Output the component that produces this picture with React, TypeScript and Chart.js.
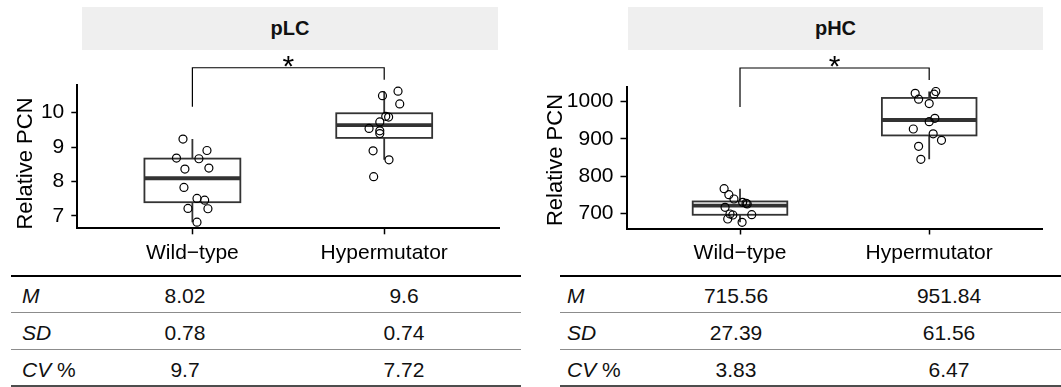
import React, { useEffect, useRef } from "react";
import { Chart, registerables } from "chart.js";

Chart.register(...registerables);

const FONT = '"Liberation Sans", Arial, Helvetica, sans-serif';

// Groups on the x axis
const groups = ["Wild\u2212type", "Hypermutator"];

// Relative plasmid copy number of each clone, pLC
const plcWildType = [9.23, 8.9, 8.68, 8.66, 8.36, 8.39, 7.83, 7.51, 7.46, 7.22, 7.21, 6.82];
const plcHypermutator = [10.49, 10.62, 10.25, 9.89, 9.87, 9.73, 9.54, 9.47, 9.39, 8.89, 8.63, 8.14];

// Relative plasmid copy number of each clone, pHC
const phcWildType = [766.1, 750.0, 738.4, 729.6, 726.9, 725.0, 716.1, 698.1, 695.4, 696.2, 684.7, 675.8];
const phcHypermutator = [1022.6, 1027.4, 1020.2, 1006.7, 994.9, 955.4, 946.2, 926.6, 913.7, 896.2, 880.1, 845.2];

// Horizontal jitter of each clone (fraction of a category width)
const plcWildTypeJitter = [-0.049, 0.076, -0.083, 0.034, -0.039, 0.086, -0.044, 0.024, 0.064, -0.023, 0.081, 0.024];
const plcHypermutatorJitter = [-0.009, 0.072, 0.081, 0.008, 0.023, -0.023, -0.079, -0.023, -0.023, -0.058, 0.025, -0.055];
const phcWildTypeJitter = [-0.084, -0.059, -0.032, 0.014, 0.032, 0.038, -0.079, -0.053, -0.038, 0.062, -0.065, 0.011];
const phcHypermutatorJitter = [-0.074, 0.035, 0.026, -0.056, 0, 0.03, 0, -0.084, 0.021, 0.065, -0.056, -0.044];

// Axis ticks
const plcTicks = [7, 8, 9, 10];
const phcTicks = [700, 800, 900, 1000];

// Significance bracket: [bar level, left leg end, right leg end]
const plcBracket = [11.3, 10.17, 10.95];
const phcBracket = [1090.6, 985.8, 1058];
const signifLabel = "*";

// Summary statistics (Wild-type, Hypermutator)
const plcMean = ["8.02", "9.6"];
const plcSD = ["0.78", "0.74"];
const plcCV = ["9.7", "7.72"];
const phcMean = ["715.56", "951.84"];
const phcSD = ["27.39", "61.56"];
const phcCV = ["3.83", "6.47"];

function quantile7(sorted: number[], p: number) {
  const h = (sorted.length - 1) * p;
  const lo = Math.floor(h);
  const hi = Math.min(lo + 1, sorted.length - 1);
  return sorted[lo] + (h - lo) * (sorted[hi] - sorted[lo]);
}

function boxStats(vals: number[]) {
  const s = [...vals].sort((a, b) => a - b);
  const q1 = quantile7(s, 0.25);
  const med = quantile7(s, 0.5);
  const q3 = quantile7(s, 0.75);
  const iqr = q3 - q1;
  const lo = Math.min(...s.filter((v) => v >= q1 - 1.5 * iqr));
  const hi = Math.max(...s.filter((v) => v <= q3 + 1.5 * iqr));
  return { q1, med, q3, lo, hi };
}

const boxPlugin = {
  id: "boxes",
  beforeDatasetsDraw(chart: any, _args: any, opts: any) {
    const { ctx } = chart;
    const x = chart.scales.x;
    const y = chart.scales.y;
    (opts.groups as number[][]).forEach((vals, i) => {
      const st = boxStats(vals);
      const cx = x.getPixelForValue(i + 1);
      const xl = x.getPixelForValue(i + 1 - 0.25);
      const xr = x.getPixelForValue(i + 1 + 0.25);
      const yq1 = y.getPixelForValue(st.q1);
      const yq3 = y.getPixelForValue(st.q3);
      ctx.save();
      ctx.strokeStyle = "#333333";
      ctx.lineWidth = 1.8;
      ctx.beginPath();
      ctx.moveTo(cx, yq3);
      ctx.lineTo(cx, y.getPixelForValue(st.hi));
      ctx.moveTo(cx, yq1);
      ctx.lineTo(cx, y.getPixelForValue(st.lo));
      ctx.stroke();
      ctx.fillStyle = "#ffffff";
      ctx.fillRect(xl, yq3, xr - xl, yq1 - yq3);
      ctx.strokeRect(xl, yq3, xr - xl, yq1 - yq3);
      ctx.lineWidth = 3.8;
      ctx.beginPath();
      const ym = y.getPixelForValue(st.med);
      ctx.moveTo(xl, ym);
      ctx.lineTo(xr, ym);
      ctx.stroke();
      ctx.restore();
    });
  },
};

const annotatePlugin = {
  id: "annotate",
  afterDatasetsDraw(chart: any, _args: any, opts: any) {
    const { ctx } = chart;
    const x = chart.scales.x;
    const y = chart.scales.y;
    const [level, leftEnd, rightEnd] = opts.bracket as number[];
    const x1 = x.getPixelForValue(1);
    const x2 = x.getPixelForValue(2);
    const yl = y.getPixelForValue(level);
    ctx.save();
    ctx.strokeStyle = "#000";
    ctx.lineWidth = 1.2;
    ctx.beginPath();
    ctx.moveTo(x1, y.getPixelForValue(leftEnd));
    ctx.lineTo(x1, yl);
    ctx.lineTo(x2, yl);
    ctx.lineTo(x2, y.getPixelForValue(rightEnd));
    ctx.stroke();

    ctx.fillStyle = "#000";
    ctx.font = `30px ${FONT}`;
    ctx.textAlign = "center";
    ctx.textBaseline = "alphabetic";
    const m = ctx.measureText(opts.label);
    const glyphBottom = yl - 1;
    ctx.fillText(opts.label, (x1 + x2) / 2, glyphBottom - m.actualBoundingBoxDescent);

    // y axis title
    ctx.font = `22px ${FONT}`;
    ctx.translate(opts.titleX, opts.titleY);
    ctx.rotate(-Math.PI / 2);
    ctx.fillText(opts.yTitle, 0, 0);
    ctx.restore();
  },
};

type PanelProps = {
  left: number;
  width: number;
  height: number;
  wt: number[];
  hyp: number[];
  wtJit: number[];
  hypJit: number[];
  yTicks: number[];
  yMin: number;
  yMax: number;
  bracket: number[];
  area: { left: number; right: number; top: number; bottom: number };
  titleX: number;
  titleY: number;
};

function Panel(p: PanelProps) {
  const ref = useRef<HTMLCanvasElement | null>(null);
  useEffect(() => {
    if (!ref.current) return;
    const pointStyle = {
      pointRadius: 4,
      pointHoverRadius: 4,
      borderWidth: 1.2,
      borderColor: "#000",
      backgroundColor: "rgba(0,0,0,0)",
    };
    const tickFont = { size: 21, family: FONT };
    const chart = new Chart(ref.current, {
      type: "scatter",
      data: {
        datasets: [
          { data: p.wt.map((v, i) => ({ x: 1 + p.wtJit[i], y: v })), ...pointStyle },
          { data: p.hyp.map((v, i) => ({ x: 2 + p.hypJit[i], y: v })), ...pointStyle },
        ],
      },
      options: {
        animation: false,
        responsive: false,
        events: [],
        layout: {
          padding: { left: 0, top: p.area.top, right: p.width - p.area.right, bottom: 0 },
        },
        plugins: {
          legend: { display: false },
          tooltip: { enabled: false },
          boxes: { groups: [p.wt, p.hyp] },
          annotate: {
            bracket: p.bracket,
            label: signifLabel,
            yTitle: "Relative PCN",
            titleX: p.titleX,
            titleY: p.titleY,
          },
        } as any,
        scales: {
          x: {
            type: "linear",
            min: 0.4,
            max: 2.6,
            afterFit: (s: any) => {
              s.height = p.height - p.area.bottom;
            },
            afterBuildTicks: (s: any) => {
              s.ticks = [{ value: 1 }, { value: 2 }];
            },
            ticks: {
              callback: (v: any) => groups[Math.round(Number(v)) - 1],
              font: tickFont,
              color: "#000",
              padding: 6,
              maxRotation: 0,
              autoSkip: false,
            },
            grid: { drawOnChartArea: false, drawTicks: true, tickLength: 6, tickColor: "#000", tickWidth: 1.5 },
            border: { display: true, color: "#000", width: 2 },
          },
          y: {
            type: "linear",
            min: p.yMin,
            max: p.yMax,
            afterFit: (s: any) => {
              s.width = p.area.left;
            },
            afterBuildTicks: (s: any) => {
              s.ticks = p.yTicks.map((value) => ({ value }));
            },
            ticks: { font: tickFont, color: "#000", padding: 7, callback: (v: any) => String(v) },
            grid: { drawOnChartArea: false, drawTicks: true, tickLength: 6, tickColor: "#000", tickWidth: 1.5 },
            border: { display: true, color: "#000", width: 2 },
          },
        },
      } as any,
      plugins: [boxPlugin, annotatePlugin],
    });
    return () => chart.destroy();
  }, []);
  return (
    <canvas
      ref={ref}
      width={p.width}
      height={p.height}
      style={{ position: "absolute", left: p.left, top: 0, width: p.width, height: p.height }}
    />
  );
}

function Strip({ left, width, text }: { left: number; width: number; text: string }) {
  return (
    <div
      style={{
        position: "absolute",
        left,
        top: 7,
        width,
        height: 43,
        background: "#efefef",
        textAlign: "center",
        lineHeight: "43px",
        fontWeight: "bold",
        fontSize: 20,
        color: "#111",
      }}
    >
      {text}
    </div>
  );
}

type TableProps = {
  left: number;
  right: number;
  labelX: number;
  col1X: number;
  col2X: number;
  mean: string[];
  sd: string[];
  cv: string[];
};

function StatsTable(t: TableProps) {
  const rowCenters = [296, 333, 370];
  const labels = [
    <i key="m">M</i>,
    <i key="sd">SD</i>,
    <span key="cv">
      <i>CV</i> %
    </span>,
  ];
  const rows = [t.mean, t.sd, t.cv];
  const line = (top: number, h: number, color: string) => (
    <div style={{ position: "absolute", left: t.left, width: t.right - t.left, top, height: h, background: color }} />
  );
  const cell = (cx: number, cy: number, content: any, align: "left" | "center", key: string) => (
    <div
      key={key}
      style={{
        position: "absolute",
        left: align === "left" ? cx : cx - 70,
        width: align === "left" ? 100 : 140,
        top: cy - 12,
        height: 24,
        lineHeight: "24px",
        fontSize: 21,
        textAlign: align,
        color: "#111",
        whiteSpace: "nowrap",
      }}
    >
      {content}
    </div>
  );
  return (
    <>
      {line(274.8, 1.8, "#000")}
      {line(311.5, 1.5, "#8c8c8c")}
      {line(348.5, 1.5, "#8c8c8c")}
      {line(384.5, 2.5, "#4d4d4d")}
      {rowCenters.map((cy, r) => (
        <React.Fragment key={r}>
          {cell(t.labelX, cy, labels[r], "left", `l${r}`)}
          {cell(t.col1X, cy, rows[r][0], "center", `a${r}`)}
          {cell(t.col2X, cy, rows[r][1], "center", `b${r}`)}
        </React.Fragment>
      ))}
    </>
  );
}

export default function App() {
  return (
    <div
      style={{
        position: "absolute",
        left: 0,
        top: 0,
        width: 1061,
        height: 387,
        background: "#fff",
        overflow: "hidden",
        fontFamily: FONT,
      }}
    >
      <Strip left={82} width={416} text="pLC" />
      <Strip left={628} width={415} text="pHC" />
      <Panel
        left={0}
        width={530}
        height={272}
        wt={plcWildType}
        hyp={plcHypermutator}
        wtJit={plcWildTypeJitter}
        hypJit={plcHypermutatorJitter}
        yTicks={plcTicks}
        yMin={6.643}
        yMax={10.8}
        bracket={plcBracket}
        area={{ left: 77.3, right: 499.3, top: 85, bottom: 228.3 }}
        titleX={32}
        titleY={163.5}
      />
      <Panel
        left={530}
        width={531}
        height={272}
        wt={phcWildType}
        hyp={phcHypermutator}
        wtJit={phcWildTypeJitter}
        hypJit={phcHypermutatorJitter}
        yTicks={phcTicks}
        yMin={659.1}
        yMax={1039.5}
        bracket={phcBracket}
        area={{ left: 96.5, right: 512.7, top: 87, bottom: 228.5 }}
        titleX={32}
        titleY={160}
      />
      <StatsTable left={11} right={521} labelX={22} col1X={185} col2X={404} mean={plcMean} sd={plcSD} cv={plcCV} />
      <StatsTable left={560} right={1061} labelX={567} col1X={736} col2X={949} mean={phcMean} sd={phcSD} cv={phcCV} />
    </div>
  );
}
